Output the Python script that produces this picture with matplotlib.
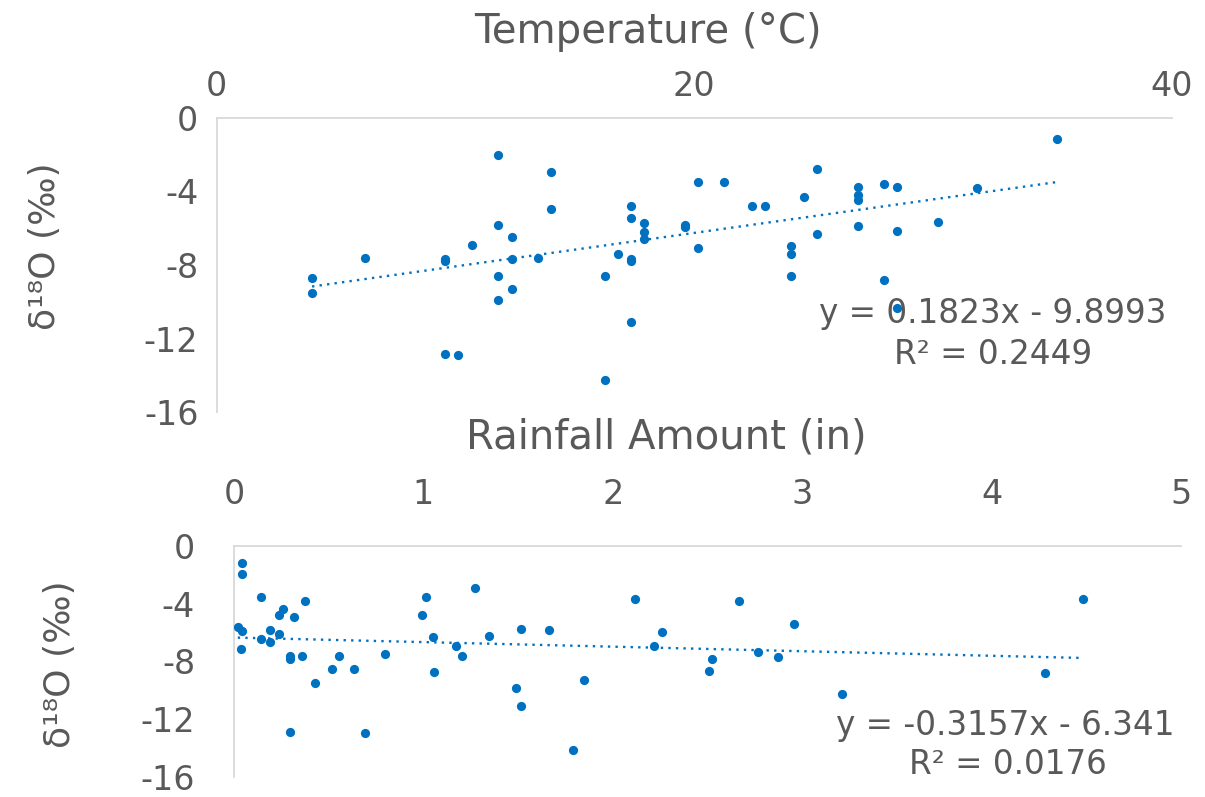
import matplotlib
matplotlib.use("Agg")
import matplotlib.pyplot as plt
import numpy as np

# ---------------- data ----------------
temp_c = [4.0, 4.0, 6.2, 9.55, 9.55, 9.55, 10.1, 10.7, 11.8, 11.8, 11.8, 11.8,
          12.35, 12.35, 12.35, 13.45, 14.0, 14.0,
          16.25, 16.25, 16.8, 17.35, 17.35, 17.35, 17.35, 17.35, 17.9, 17.9, 17.9,
          19.6, 19.6, 20.15, 20.15, 21.25, 22.4, 22.95, 24.05, 24.05, 24.05, 24.6,
          25.15, 25.15, 26.85, 26.85, 26.85, 26.85, 27.95, 27.95, 28.5, 28.5, 28.5,
          30.2, 31.85, 35.2]
d18o_temp = [-8.7, -9.55, -7.6, -7.65, -7.8, -12.85, -12.9, -6.9, -2.0, -5.85, -8.6, -9.9,
             -6.5, -7.65, -9.3, -7.6, -2.95, -4.95,
             -8.6, -14.25, -7.4, -4.8, -5.45, -7.7, -7.8, -11.1, -5.7, -6.2, -6.6,
             -5.8, -5.95, -3.5, -7.1, -3.5, -4.8, -4.8, -6.95, -7.4, -8.6, -4.3,
             -2.75, -6.3, -3.75, -4.2, -4.45, -5.9, -3.6, -8.8, -3.75, -6.15, -10.35,
             -5.65, -3.8, -1.15]

rain_in = [0.04, 0.04, 0.02, 0.04, 0.035, 0.14, 0.14, 0.19, 0.19, 0.24, 0.24, 0.26,
           0.315, 0.295, 0.295, 0.295, 0.36, 0.375, 0.43, 0.52, 0.555, 0.635, 0.69,
           0.795, 0.995, 1.015, 1.05, 1.055, 1.17, 1.205, 1.275, 1.345, 1.49, 1.515,
           1.515, 1.665, 1.79, 1.85, 2.115, 2.215, 2.26, 2.51, 2.525, 2.665, 2.765,
           2.87, 2.955, 3.21, 4.28, 4.48]
d18o_rain = [-1.15, -1.95, -5.6, -5.9, -7.15, -3.55, -6.45, -5.8, -6.65, -4.8, -6.1, -4.35,
             -4.95, -7.65, -7.8, -12.85, -7.65, -3.8, -9.5, -8.55, -7.65, -8.55, -12.95,
             -7.45, -4.75, -3.5, -6.3, -8.7, -6.9, -7.65, -2.9, -6.2, -9.85, -11.1,
             -5.75, -5.8, -14.15, -9.3, -3.7, -6.95, -5.95, -8.65, -7.8, -3.8, -7.35,
             -7.7, -5.4, -10.25, -8.8, -3.65]

temp_fit = (0.1823, -9.8993)
rain_fit = (-0.3157, -6.341)
temp_eq = ["y = 0.1823x - 9.8993", "R² = 0.2449"]
rain_eq = ["y = -0.3157x - 6.341", "R² = 0.0176"]

temp_xticks = [0, 20, 40]
rain_xticks = [0, 1, 2, 3, 4, 5]
yticks = [0, -4, -8, -12, -16]

# ---------------- style ----------------
W, H = 1205, 797
BLUE = "#0070C0"
TXT = "#595959"
GRID = "#D9D9D9"
FONT = ["DejaVu Sans"]
plt.rcParams["font.family"] = FONT
plt.rcParams["axes.unicode_minus"] = False

fig = plt.figure(figsize=(W / 100, H / 100), dpi=100)


def fx(px):
    return px / W


def fy(py):
    return 1 - py / H


def style(ax, xlim, xticks, xpad, ypad):
    ax.set_xlim(*xlim)
    ax.set_ylim(-16, 0)
    ax.set_xticks(xticks)
    ax.set_yticks(yticks)
    ax.xaxis.tick_top()
    for s in ("bottom", "right"):
        ax.spines[s].set_visible(False)
    for s in ("top", "left"):
        ax.spines[s].set_color(GRID)
        ax.spines[s].set_linewidth(1.3)
    ax.tick_params(axis="x", length=0, pad=xpad, labelsize=24, labelcolor=TXT)
    ax.tick_params(axis="y", length=0, pad=ypad, labelsize=24, labelcolor=TXT)
    ax.patch.set_alpha(0)


# top axes
ax1 = fig.add_axes([fx(216.5), fy(412), fx(1172 - 216.5), (412 - 118) / H])
style(ax1, (0, 40), temp_xticks, 11, 13)
ax1.scatter(temp_c, d18o_temp, s=44, color=BLUE, zorder=3, linewidths=0)
xt = np.array([min(temp_c), max(temp_c)])
ax1.plot(xt, temp_fit[0] * xt + temp_fit[1], color=BLUE, lw=1.7,
         linestyle=(0, (1, 2.2)), zorder=2)

# bottom axes
ax2 = fig.add_axes([fx(234), fy(777), fx(1181 - 234), (777 - 546) / H])
style(ax2, (0, 5), rain_xticks, 25, 28)
ax2.scatter(rain_in, d18o_rain, s=44, color=BLUE, zorder=3, linewidths=0)
xr = np.array([min(rain_in), max(rain_in)])
ax2.plot(xr, rain_fit[0] * xr + rain_fit[1], color=BLUE, lw=1.7,
         linestyle=(0, (1, 2.2)), zorder=2)

# titles
fig.text(fx(648), fy(32), "Temperature (°C)", ha="center", va="center",
         fontsize=29, color=TXT)
fig.text(fx(666), fy(437), "Rainfall Amount (in)", ha="center", va="center",
         fontsize=29, color=TXT)

# y labels
fig.text(fx(45), fy(246), "δ¹⁸O (‰)", ha="center", va="center", rotation=90,
         fontsize=26, color=TXT)
fig.text(fx(60), fy(664), "δ¹⁸O (‰)", ha="center", va="center", rotation=90,
         fontsize=26, color=TXT)

# equations
fig.text(fx(993), fy(314), temp_eq[0], ha="center", va="center", fontsize=23.5, color=TXT)
fig.text(fx(993), fy(355), temp_eq[1], ha="center", va="center", fontsize=23.5, color=TXT)
fig.text(fx(1005), fy(726), rain_eq[0], ha="center", va="center", fontsize=23.5, color=TXT)
fig.text(fx(1008), fy(765), rain_eq[1], ha="center", va="center", fontsize=23.5, color=TXT)

fig.savefig("out.png", dpi=100)
